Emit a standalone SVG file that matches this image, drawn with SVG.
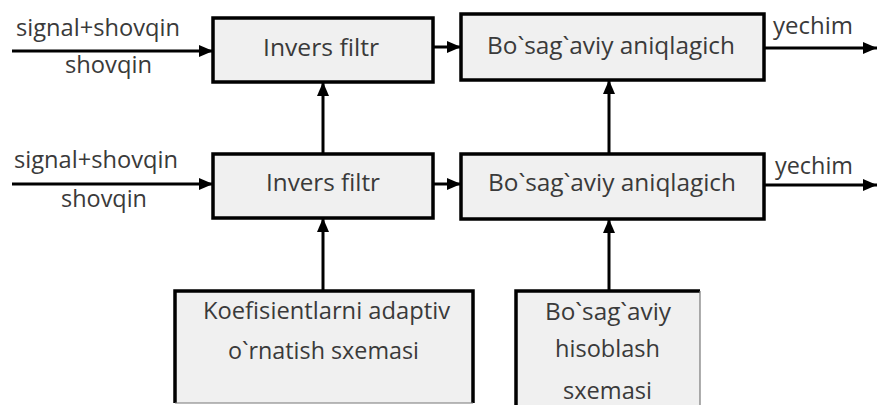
<svg xmlns="http://www.w3.org/2000/svg" width="877" height="405" viewBox="0 0 877 405">
<style>
.box{fill:#f0f0f0;stroke:#000;stroke-width:3.5}
.edge{fill:none;stroke:#000;stroke-width:3.5}
.thin{fill:none;stroke:#777;stroke-width:1.2}
.t{font-family:"Open Sans","Liberation Sans",sans-serif;font-size:24px;fill:#3a3a3a}
.c{fill:none;stroke:#000;stroke-width:3}
</style>
<defs>
<marker id="ah" markerWidth="14" markerHeight="12" refX="14" refY="6" orient="auto" markerUnits="userSpaceOnUse">
<path d="M0,0 L14,6 L0,12 Z" fill="#000"/>
</marker>
<clipPath id="clipB"><rect x="0" y="0" width="877" height="402"/></clipPath>
</defs>
<rect width="877" height="405" fill="#fff"/>
<g id="connectors">
<line class="c" x1="12" y1="51" x2="213" y2="51" marker-end="url(#ah)"/>
<line class="c" x1="433" y1="47" x2="461" y2="47" marker-end="url(#ah)"/>
<line class="c" x1="764" y1="48" x2="877" y2="48" marker-end="url(#ah)"/>
<line class="c" x1="12" y1="184" x2="213" y2="184" marker-end="url(#ah)"/>
<line class="c" x1="433" y1="184" x2="461" y2="184" marker-end="url(#ah)"/>
<line class="c" x1="764" y1="185" x2="877" y2="185" marker-end="url(#ah)"/>
<line class="c" x1="323" y1="154" x2="323" y2="82" marker-end="url(#ah)"/>
<line class="c" x1="609" y1="154" x2="609" y2="80" marker-end="url(#ah)"/>
<line class="c" x1="323" y1="291" x2="323" y2="218" marker-end="url(#ah)"/>
<line class="c" x1="609" y1="291" x2="609" y2="219" marker-end="url(#ah)"/>
<text class="t" x="16" y="36" textLength="164" lengthAdjust="spacingAndGlyphs">signal+shovqin</text>
<text class="t" x="65" y="73" textLength="87" lengthAdjust="spacingAndGlyphs">shovqin</text>
<text class="t" x="14" y="168" textLength="164" lengthAdjust="spacingAndGlyphs">signal+shovqin</text>
<text class="t" x="61" y="207" textLength="86" lengthAdjust="spacingAndGlyphs">shovqin</text>
<text class="t" x="773" y="34" textLength="80" lengthAdjust="spacingAndGlyphs">yechim</text>
<text class="t" x="775" y="174" textLength="78" lengthAdjust="spacingAndGlyphs">yechim</text>
</g>
<g id="invers1">
<rect class="box" x="213" y="18" width="220" height="64"/>
<text class="t" x="263" y="56" textLength="116" lengthAdjust="spacingAndGlyphs">Invers filtr</text>
</g>
<g id="bosag1">
<rect class="box" x="461" y="14" width="303" height="66"/>
<text class="t" x="487" y="54" textLength="248" lengthAdjust="spacingAndGlyphs">Bo`sag`aviy aniqlagich</text>
</g>
<g id="invers2">
<rect class="box" x="213" y="154" width="220" height="64"/>
<text class="t" x="266" y="191" textLength="114" lengthAdjust="spacingAndGlyphs">Invers filtr</text>
</g>
<g id="bosag2">
<rect class="box" x="461" y="154" width="303" height="65"/>
<text class="t" x="488" y="191" textLength="248" lengthAdjust="spacingAndGlyphs">Bo`sag`aviy aniqlagich</text>
</g>
<g id="koef">
<rect x="175" y="291" width="298" height="112" fill="#f0f0f0"/>
<path class="edge" d="M175,403 L175,291 L473,291 L473,403"/>
<line class="thin" x1="175" y1="403" x2="473" y2="403"/>
<text class="t" x="203" y="319" textLength="247" lengthAdjust="spacingAndGlyphs">Koefisientlarni adaptiv</text>
<text class="t" x="228" y="359" textLength="191" lengthAdjust="spacingAndGlyphs">o`rnatish sxemasi</text>
</g>
<g id="hisoblash">
<rect x="516" y="291" width="184" height="114" fill="#f0f0f0"/>
<path class="edge" d="M516,405 L516,291 L700,291"/>
<line class="thin" x1="700" y1="291" x2="700" y2="405"/>
<text class="t" x="545" y="320" textLength="126" lengthAdjust="spacingAndGlyphs">Bo`sag`aviy</text>
<text class="t" x="555" y="357" textLength="105" lengthAdjust="spacingAndGlyphs">hisoblash</text>
<text class="t" x="563" y="399" textLength="89" lengthAdjust="spacingAndGlyphs" clip-path="url(#clipB)">sxemasi</text>
</g>
</svg>
